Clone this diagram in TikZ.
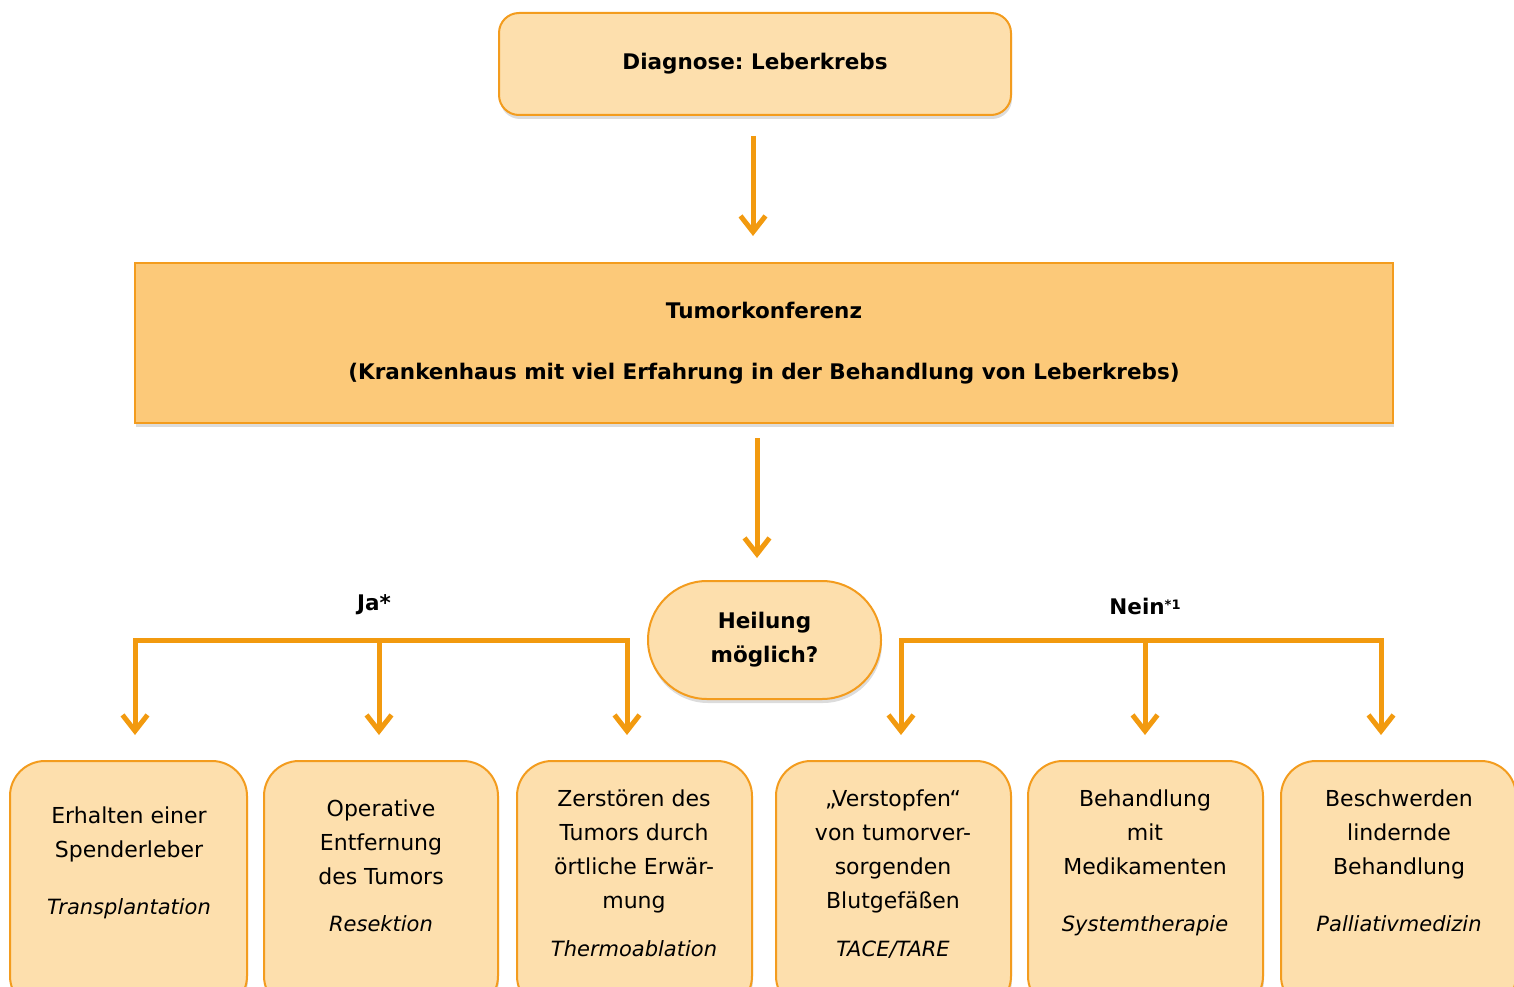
\documentclass[tikz,border=0pt]{standalone}
\usepackage{fontspec}
\setmainfont{DejaVu Sans}
\frenchspacing
\usetikzlibrary{arrows.meta,shadows}
\definecolor{lf}{HTML}{FDDFAD}
\definecolor{df}{HTML}{FCC979}
\definecolor{ob}{HTML}{F39C1E}
\definecolor{ac}{HTML}{F29A0F}
\tikzset{
  shad/.style={drop shadow={opacity=0.28,shadow xshift=1pt,shadow yshift=-4pt}},
  lbox/.style={draw=ob,line width=2pt,fill=lf,inner sep=0pt,shad},
  bfont/.style={font=\fontsize{21.5}{34}\selectfont\bfseries},
  rfont/.style={font=\fontsize{22}{34}\selectfont},
  arr/.style={draw=ac,line width=5pt,-{Straight Barb[length=16pt,width=25pt]}},
  bar/.style={draw=ac,line width=5pt,line cap=rect},
  btxt/.style={rfont,align=center,anchor=north,inner sep=0pt},
}
\newcommand{\fl}{\rule{0pt}{22pt}}
\begin{document}
\begin{tikzpicture}[x=1pt,y=-1pt]
\useasboundingbox (0,0) rectangle (1514,987);
\clip (0,0) rectangle (1514,987);
% top box
\node[lbox,rounded corners=20pt,minimum width=512pt,minimum height=102pt,bfont] (diag) at (755,64) {Diagnose: Leberkrebs};
% conference
\node[draw=ob,line width=2pt,fill=df,shad,minimum width=1258pt,minimum height=160pt,inner sep=0pt,bfont,align=center] (tk) at (764,343) {Tumorkonferenz\\[27pt](Krankenhaus mit viel Erfahrung in der Behandlung von Leberkrebs)};
% decision
\node[lbox,rounded corners=59pt,minimum width=233pt,minimum height=118pt,bfont,align=center] (heil) at (764.5,640) {Heilung\\möglich?};
% arrows to centre
\draw[arr] ([xshift=-2pt,yshift=-20pt]diag.south) -- ([xshift=-11pt,yshift=26pt]tk.north);
\draw[arr] ([xshift=-7pt,yshift=-14pt]tk.south) -- ([xshift=-7.5pt,yshift=22pt]heil.north);
% labels
\node[bfont] (ja) at (374,605) {Ja*};
\node[bfont] (nein) at (1145,606) {Nein{\fontsize{13}{13}\selectfont\raisebox{5pt}{*1}}};
% branch coordinates
\coordinate (L1) at (135,640); \coordinate (L2) at (379,640); \coordinate (L3) at (627,640);
\coordinate (R1) at (901,640); \coordinate (R2) at (1145,640); \coordinate (R3) at (1381,640);
\coordinate (LD1) at (135,735); \coordinate (LD2) at (379,735); \coordinate (LD3) at (627,735);
\coordinate (RD1) at (901,735); \coordinate (RD2) at (1145,735); \coordinate (RD3) at (1381,735);
\draw[bar] (L1) -- (L3);
\draw[bar] (R1) -- (R3);
\draw[arr] (L1) -- (LD1); \draw[arr] (L2) -- (LD2); \draw[arr] (L3) -- (LD3);
\draw[arr] (R1) -- (RD1); \draw[arr] (R2) -- (RD2); \draw[arr] (R3) -- (RD3);
% bottom boxes
\node[lbox,rounded corners=35pt,minimum width=237pt,minimum height=250pt] (b1) at (128.5,886) {};
\node[lbox,rounded corners=35pt,minimum width=234pt,minimum height=250pt] (b2) at (381,886) {};
\node[lbox,rounded corners=35pt,minimum width=235pt,minimum height=250pt] (b3) at (634.5,886) {};
\node[lbox,rounded corners=35pt,minimum width=235pt,minimum height=250pt] (b4) at (893.5,886) {};
\node[lbox,rounded corners=35pt,minimum width=235pt,minimum height=250pt] (b5) at (1145.5,886) {};
\node[lbox,rounded corners=35pt,minimum width=235pt,minimum height=250pt] (b6) at (1398.5,886) {};
% texts
\node[btxt] (t1) at (129,801) {\fl Erhalten einer\\Spenderleber\\[23pt]\fontsize{21}{34}\selectfont\itshape Transplantation};
\node[btxt] (t2) at (381,794) {\fl Operative\\Entfernung\\des Tumors\\[13pt]\fontsize{21}{34}\selectfont\itshape Resektion};
\node[btxt] (t3) at (634,784) {\fl Zerstören des\\Tumors durch\\örtliche Erwär-\\mung\\[14pt]\fontsize{21}{34}\selectfont\itshape Thermoablation};
\node[btxt] (t4) at (893,784) {\fl „Verstopfen“\\von tumorver-\\sorgenden\\Blutgefäßen\\[14pt]\fontsize{21}{34}\selectfont\itshape TACE/TARE};
\node[btxt] (t5) at (1145,784) {\fl Behandlung\\mit\\Medikamenten\\[23pt]\fontsize{21}{34}\selectfont\itshape Systemtherapie};
\node[btxt] (t6) at (1399,784) {\fl Beschwerden\\lindernde\\Behandlung\\[23pt]\fontsize{21}{34}\selectfont\itshape Palliativmedizin};
\end{tikzpicture}
\end{document}
